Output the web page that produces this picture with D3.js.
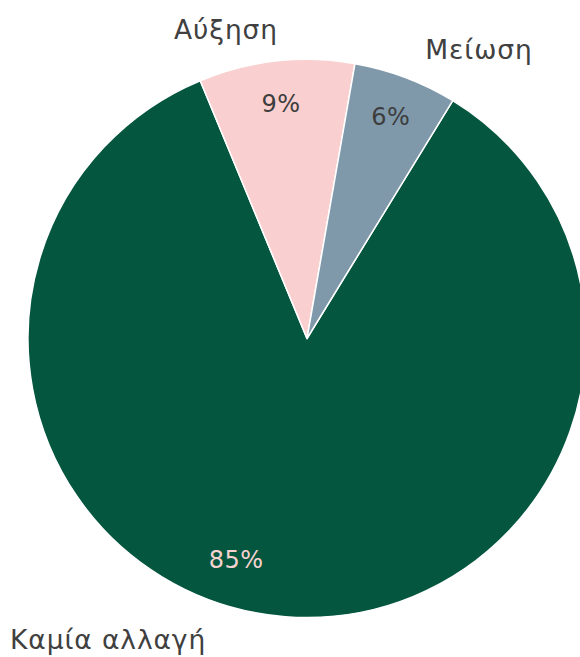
<!DOCTYPE html>
<html>
<head>
<meta charset="utf-8">
<script src="https://cdn.jsdelivr.net/npm/d3@7"></script>
<style>
  html, body { margin: 0; padding: 0; background: #ffffff; }
  svg { display: block; }
  text { font-family: "DejaVu Sans", "Noto Sans", sans-serif; }
</style>
</head>
<body>
<svg id="chart" width="580" height="657"></svg>
<script>
// Share of responses (percent)
const categories = ["Καμία αλλαγή", "Αύξηση", "Μείωση"];
const values = [85, 9, 6];
const valueLabels = ["85%", "9%", "6%"];
const colors = ["#04563f", "#f9cfcf", "#7f99ab"];
const valueLabelColors = ["#f7d3cf", "#3d3d3d", "#3d3d3d"];

const width = 580, height = 657;
const cx = 307, cy = 338.5, radius = 279;
const startDeg = 31.5;

const svg = d3.select("#chart");
const g = svg.append("g").attr("transform", `translate(${cx},${cy})`);

const pie = d3.pie()
  .sort(null)
  .value(d => d)
  .startAngle(startDeg * Math.PI / 180)
  .endAngle(startDeg * Math.PI / 180 + 2 * Math.PI);

const arcs = pie(values);
const arc = d3.arc().innerRadius(0).outerRadius(radius);

g.selectAll("path.slice")
  .data(arcs)
  .join("path")
  .attr("class", "slice")
  .attr("d", arc)
  .attr("fill", (d, i) => colors[i])
  .attr("stroke", "#ffffff")
  .attr("stroke-width", 1.5)
  .attr("stroke-linejoin", "round");

// Percentage labels inside the slices
const labelRadius = [232, 237, 237];
const labelAngleShift = [13.3, 0, 0]; // degrees, the large slice label sits off its centroid
g.selectAll("text.value")
  .data(arcs)
  .join("text")
  .attr("class", "value")
  .attr("transform", (d, i) => {
    const a = (d.startAngle + d.endAngle) / 2 + labelAngleShift[i] * Math.PI / 180;
    const r = labelRadius[i];
    return `translate(${r * Math.sin(a)},${-r * Math.cos(a)})`;
  })
  .attr("text-anchor", "middle")
  .attr("dy", "0.36em")
  .attr("font-size", 24)
  .attr("letter-spacing", 0.5)
  .attr("fill", (d, i) => valueLabelColors[i])
  .text((d, i) => valueLabels[i]);

// Category labels outside the pie
const catPos = [
  { x: 10, y: 649, anchor: "start" },
  { x: 226, y: 39, anchor: "middle" },
  { x: 479, y: 59, anchor: "middle" }
];
svg.selectAll("text.cat")
  .data(categories)
  .join("text")
  .attr("class", "cat")
  .attr("x", (d, i) => catPos[i].x)
  .attr("y", (d, i) => catPos[i].y)
  .attr("text-anchor", (d, i) => catPos[i].anchor)
  .attr("font-size", 26.5)
  .attr("letter-spacing", 0.9)
  .attr("fill", "#404040")
  .text(d => d);
</script>
</body>
</html>
